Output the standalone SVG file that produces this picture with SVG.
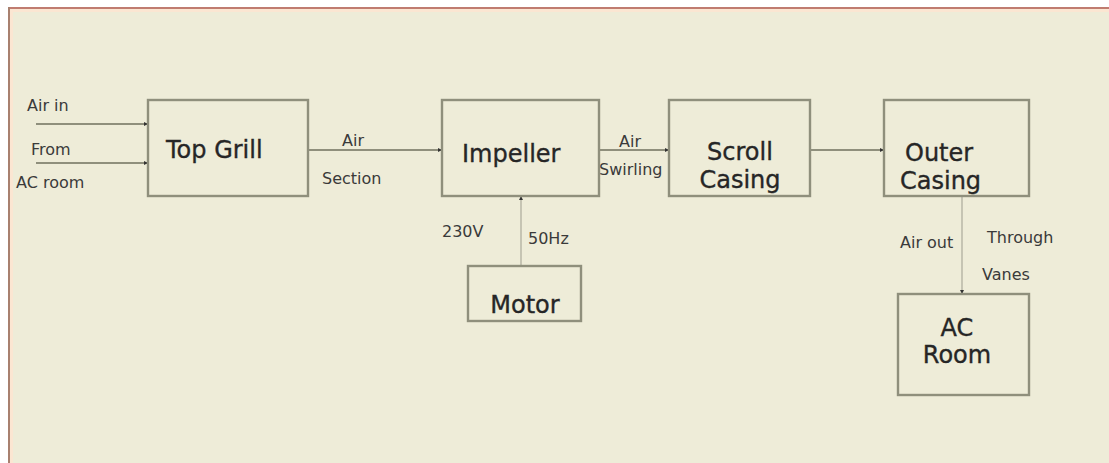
<svg xmlns="http://www.w3.org/2000/svg" width="1109" height="463" viewBox="0 0 1109 463">
  <style>
    .box { fill: none; stroke: #8f8f7c; stroke-width: 2.4; }
    .big { font-family: "DejaVu Sans", Verdana, sans-serif; font-size: 24px; fill: #262626; stroke: #262626; stroke-width: 0.35; }
    .small { font-family: "DejaVu Sans", Verdana, sans-serif; font-size: 16px; fill: #3a3a3a; }
    .wire { stroke: #8f8f7c; stroke-width: 2; fill: none; }
    .thin { stroke: #b0afa0; stroke-width: 1.3; fill: none; }
  </style>
  <defs>
    <marker id="tip" viewBox="0 0 6 6" refX="6" refY="3" markerWidth="4" markerHeight="4" orient="auto" markerUnits="userSpaceOnUse">
      <path d="M0,0 L6,3 L0,6 Z" fill="#333333"/>
    </marker>
  </defs>

  <!-- page -->
  <rect x="0" y="0" width="1109" height="463" fill="#ffffff"/>
  <rect x="8" y="7" width="1101" height="456" fill="#eeecd8"/>
  <rect x="9" y="9" width="1100" height="3" fill="#fbe6d2"/>
  <rect x="9" y="9" width="4" height="454" fill="#fbe6d2"/>
  <line x1="8" y1="8" x2="1109" y2="8" stroke="#c07c70" stroke-width="2"/>
  <line x1="9" y1="7" x2="9" y2="463" stroke="#a8806f" stroke-width="2"/>

  <!-- connectors -->
  <g id="connectors">
    <line class="wire" x1="36" y1="124" x2="148" y2="124" marker-end="url(#tip)"/>
    <line class="wire" x1="36" y1="163" x2="148" y2="163" marker-end="url(#tip)"/>
    <line class="wire" x1="308" y1="150" x2="442" y2="150" marker-end="url(#tip)"/>
    <line class="wire" x1="599" y1="150" x2="669" y2="150" marker-end="url(#tip)"/>
    <line class="wire" x1="810" y1="150" x2="884" y2="150" marker-end="url(#tip)"/>
    <line class="thin" x1="521" y1="266" x2="521" y2="196" marker-end="url(#tip)"/>
    <line class="thin" x1="962" y1="196" x2="962" y2="294" marker-end="url(#tip)"/>

    <text class="small" x="27" y="111">Air in</text>
    <text class="small" x="31" y="155">From</text>
    <text class="small" x="16" y="188">AC room</text>
    <text class="small" x="342" y="146">Air</text>
    <text class="small" x="322" y="184">Section</text>
    <text class="small" x="619" y="147">Air</text>
    <text class="small" x="599" y="175">Swirling</text>
    <text class="small" x="442" y="237">230V</text>
    <text class="small" x="528" y="244">50Hz</text>
    <text class="small" x="900" y="248">Air out</text>
    <text class="small" x="987" y="243">Through</text>
    <text class="small" x="982" y="280">Vanes</text>
  </g>

  <g id="top-grill">
    <rect class="box" x="148" y="100" width="160" height="96"/>
    <text class="big" x="166" y="158">Top Grill</text>
  </g>

  <g id="impeller">
    <rect class="box" x="442" y="100" width="157" height="96"/>
    <text class="big" x="462" y="162">Impeller</text>
  </g>

  <g id="scroll-casing">
    <rect class="box" x="669" y="100" width="141" height="96"/>
    <text class="big" x="740" y="160" text-anchor="middle">Scroll</text>
    <text class="big" x="740" y="188" text-anchor="middle">Casing</text>
  </g>

  <g id="outer-casing">
    <rect class="box" x="884" y="100" width="145" height="96"/>
    <text class="big" x="905" y="161">Outer</text>
    <text class="big" x="900" y="189">Casing</text>
  </g>

  <g id="motor">
    <rect class="box" x="468" y="266" width="113" height="55"/>
    <text class="big" x="525" y="313" text-anchor="middle">Motor</text>
  </g>

  <g id="ac-room">
    <rect class="box" x="898" y="294" width="131" height="101"/>
    <text class="big" x="957" y="336" text-anchor="middle">AC</text>
    <text class="big" x="957" y="363" text-anchor="middle">Room</text>
  </g>
</svg>
